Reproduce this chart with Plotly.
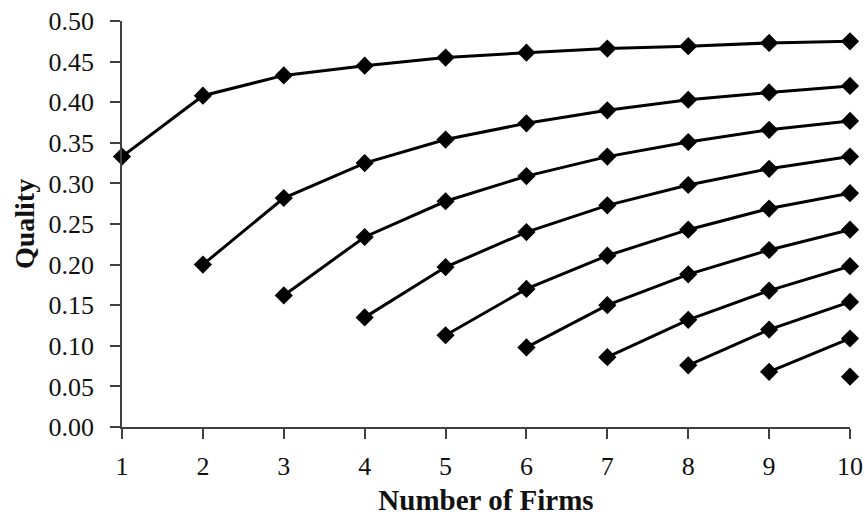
import plotly.graph_objects as go

firms = [1, 2, 3, 4, 5, 6, 7, 8, 9, 10]

quality_s1 = [0.333, 0.408, 0.433, 0.445, 0.455, 0.461, 0.466, 0.469, 0.473, 0.475]
quality_s2 = [0.200, 0.282, 0.325, 0.354, 0.374, 0.390, 0.403, 0.412, 0.420]
quality_s3 = [0.162, 0.234, 0.278, 0.309, 0.333, 0.351, 0.366, 0.377]
quality_s4 = [0.135, 0.197, 0.240, 0.273, 0.298, 0.318, 0.333]
quality_s5 = [0.113, 0.170, 0.211, 0.243, 0.269, 0.288]
quality_s6 = [0.098, 0.150, 0.188, 0.218, 0.243]
quality_s7 = [0.086, 0.132, 0.168, 0.198]
quality_s8 = [0.076, 0.120, 0.154]
quality_s9 = [0.068, 0.109]
quality_s10 = [0.062]

series = [quality_s1, quality_s2, quality_s3, quality_s4, quality_s5,
          quality_s6, quality_s7, quality_s8, quality_s9, quality_s10]

y_ticks = [0.00, 0.05, 0.10, 0.15, 0.20, 0.25, 0.30, 0.35, 0.40, 0.45, 0.50]

fig = go.Figure()
for vals in series:
    xs = firms[len(firms) - len(vals):]
    fig.add_trace(go.Scatter(
        x=xs, y=vals, mode="lines+markers",
        line=dict(color="black", width=3),
        marker=dict(symbol="diamond", size=14, color="black"),
        cliponaxis=False, showlegend=False,
    ))

font_family = "Liberation Serif, Times New Roman, serif"
fig.update_layout(
    width=865, height=516,
    margin=dict(l=122, r=15, t=21, b=89),
    paper_bgcolor="white", plot_bgcolor="white",
    font=dict(family=font_family, size=26, color="#111111"),
)
fig.update_xaxes(
    range=[1, 10], tickmode="array", tickvals=firms, ticktext=[str(v) for v in firms],
    showline=True, linecolor="#404040", linewidth=1.5,
    ticks="outside", ticklen=10, tickcolor="#404040", tickwidth=1.5,
    ticklabelstandoff=5,
    showgrid=False, zeroline=False, automargin=False,
    title=dict(text="<b>Number of Firms</b>", font=dict(size=29, family=font_family), standoff=14),
)
fig.update_yaxes(
    range=[0, 0.5], tickmode="array", tickvals=y_ticks,
    ticktext=[f"{v:.2f}" for v in y_ticks],
    showline=True, linecolor="#404040", linewidth=1.5,
    ticks="outside", ticklen=10, tickcolor="#404040", tickwidth=1.5,
    ticklabelstandoff=11,
    showgrid=False, zeroline=False, automargin=False,
    title=dict(text="<b>Quality</b>", font=dict(size=28, family=font_family), standoff=6),
)

fig.write_html("out.html", config={"displayModeBar": False},
               post_script="document.body.style.margin='0px';")
